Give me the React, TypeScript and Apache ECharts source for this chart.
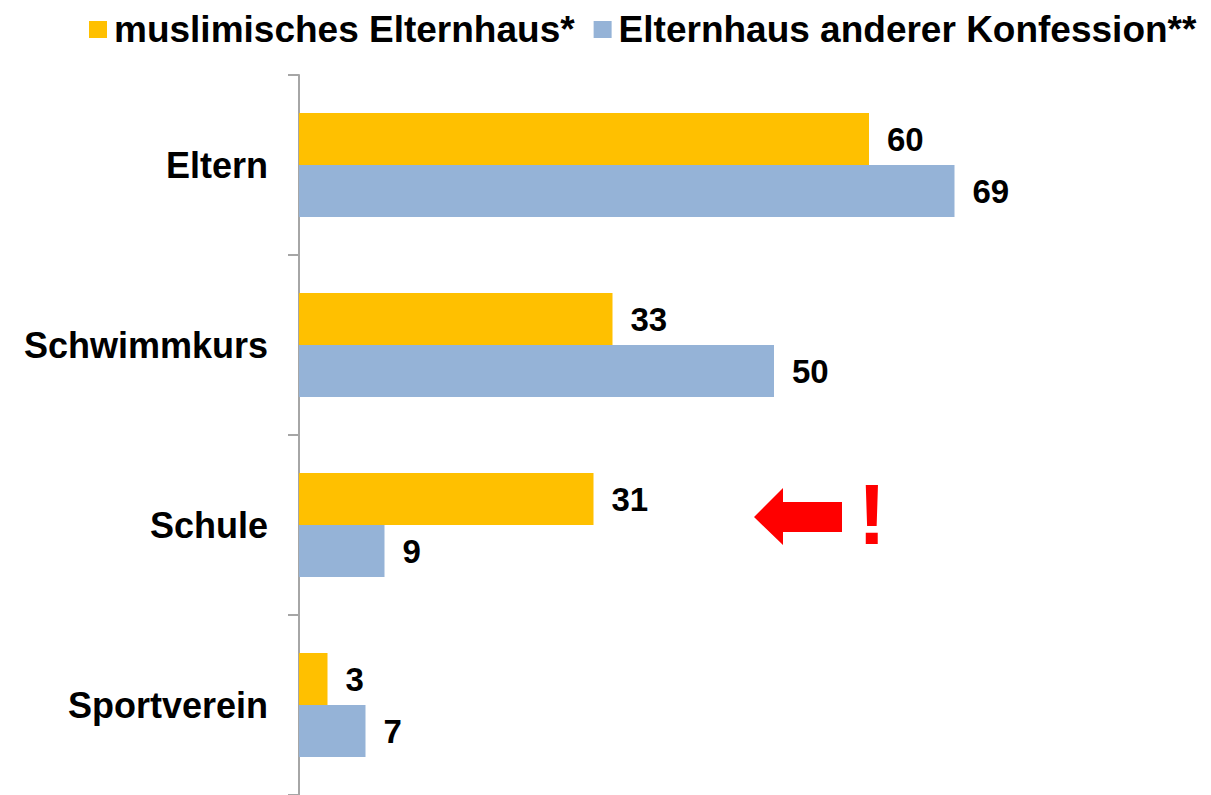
import React, { useEffect, useRef } from "react";
import * as echarts from "echarts";

const categories = ["Eltern", "Schwimmkurs", "Schule", "Sportverein"];
const seriesNames = ["muslimisches Elternhaus*", "Elternhaus anderer Konfession**"];
const muslimValues = [60, 33, 31, 3];
const otherValues = [69, 50, 9, 7];
const colors = ["#FFC000", "#95B3D7"];
const FONT = "'Liberation Sans', Arial, sans-serif";

export default function App() {
  const ref = useRef<HTMLDivElement>(null);
  useEffect(() => {
    if (!ref.current) return;
    const chart = echarts.init(ref.current, null, { renderer: "svg" });
    const labelCfg = {
      show: true,
      position: "right" as const,
      distance: 18,
      color: "#000",
      fontFamily: FONT,
      fontWeight: "bold" as const,
      fontSize: 33,
    };
    chart.setOption({
      animation: false,
      backgroundColor: "#fff",
      legend: {
        left: 84,
        top: 6,
        itemWidth: 18,
        itemHeight: 17,
        itemGap: 19,
        icon: "rect",
        data: seriesNames,
        textStyle: {
          color: "#000",
          fontFamily: FONT,
          fontWeight: "bold",
          fontSize: 37,
          padding: [0, 0, 0, 2],
        },
      },
      grid: { left: 299, top: 75, width: 760, height: 720 },
      xAxis: {
        type: "value",
        min: 0,
        max: 80,
        show: false,
      },
      yAxis: {
        type: "category",
        data: categories,
        inverse: true,
        axisLine: { show: true, lineStyle: { color: "#A6A6A6", width: 2 } },
        axisTick: { show: true, length: 11, lineStyle: { color: "#A6A6A6", width: 2 } },
        axisLabel: {
          margin: 31,
          color: "#000",
          fontFamily: FONT,
          fontWeight: "bold",
          fontSize: 36,
          padding: [0, 0, 6, 0],
        },
        splitLine: { show: false },
      },
      series: [
        {
          name: seriesNames[0],
          type: "bar",
          data: muslimValues,
          barWidth: 52,
          barGap: "0%",
          itemStyle: { color: colors[0] },
          label: labelCfg,
        },
        {
          name: seriesNames[1],
          type: "bar",
          data: otherValues,
          barWidth: 52,
          barGap: "0%",
          itemStyle: { color: colors[1] },
          label: labelCfg,
        },
      ],
      graphic: [
        {
          type: "polygon",
          shape: {
            points: [
              [754, 517],
              [783, 488],
              [783, 502],
              [842, 502],
              [842, 532],
              [783, 532],
              [783, 545],
            ],
          },
          style: { fill: "#FF0000" },
        },
        {
          type: "text",
          x: 872,
          y: 514,
          style: {
            text: "!",
            fill: "#FF0000",
            fontFamily: FONT,
            fontWeight: "bold",
            fontSize: 85,
            textAlign: "center",
            textVerticalAlign: "middle",
          },
        },
      ],
    });
    return () => chart.dispose();
  }, []);
  return (
    <div
      ref={ref}
      style={{ position: "fixed", left: 0, top: 0, width: 1211, height: 795 }}
    />
  );
}
